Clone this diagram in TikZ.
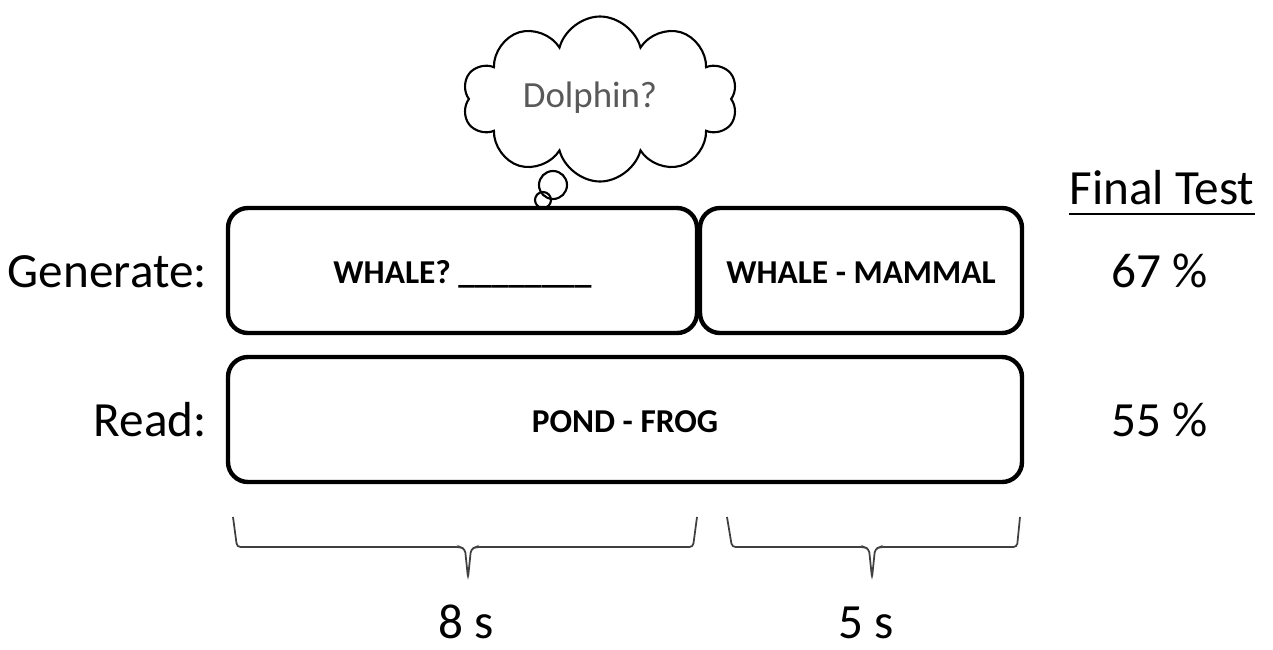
\documentclass[tikz,border=0pt]{standalone}
\usepackage{fontspec}
\setmainfont{Carlito}
\usetikzlibrary{shapes}
\usetikzlibrary{shapes.symbols}

\begin{document}
\begin{tikzpicture}[>=stealth,
    trial/.style={draw, line width=2.5pt, rounded corners=0.4cm, inner sep=0pt, minimum height=2.5cm,
                  text height=0.5cm, text depth=0pt, font=\bfseries\fontsize{19}{23}\selectfont},
    cond/.style={anchor=base east, inner sep=0pt, font=\fontsize{28}{34}\selectfont},
    score/.style={anchor=base, inner sep=0pt, font=\fontsize{28}{34}\selectfont},
    bubble/.style={draw, circle, line width=1.2pt, inner sep=0pt},
    span/.style={line width=1pt, black!75, rounded corners=2pt}]

      \useasboundingbox (0,0) rectangle (25.46,-12.98);

      % the two study conditions
      \node[trial, minimum width=9.38cm] (G0) at (9.25,-5.41) {WHALE? \_\_\_\_\_\_\_\_};
      \node[trial, minimum width=6.44cm] (G1) at (17.22,-5.41) {WHALE - MAMMAL};
      \node[trial, minimum width=15.88cm] (R0) at (12.5,-8.39) {POND - FROG};

      \node[cond] (gen) at (4.14,-5.74) {Generate:};
      \node[cond] (read) at (4.14,-8.72) {Read:};

      % thought bubble
      \node[draw, cloud, cloud puffs=10, aspect=1.7, line width=1.2pt,
            minimum width=5.5cm, minimum height=3.3cm] (think) at (12.0,-1.98) {};
      \node[text=black!65, font=\fontsize{21}{25}\selectfont] (dolphin) at (11.8,-1.96) {Dolphin?};
      \node[bubble, minimum size=0.56cm] (b0) at (11.06,-3.7) {};
      \node[bubble, minimum size=0.32cm] (b1) at (10.86,-4.0) {};

      % results
      \node[score] (final) at (23.24,-4.08) {Final Test};
      \draw[line width=1.2pt] ([yshift=-0.2cm]final.base west) -- ([yshift=-0.2cm]final.base east);
      \node[score] (s0) at (23.2,-5.74) {67 \%};
      \node[score] (s1) at (23.2,-8.72) {55 \%};

      % timing
      \coordinate (t0) at (4.66,-10.34);
      \coordinate (t1) at (13.94,-10.34);
      \coordinate (t2) at (14.54,-10.34);
      \coordinate (t3) at (20.4,-10.34);
      \coordinate (v0) at (9.36,-11.56);
      \coordinate (v1) at (17.44,-11.56);
      \draw[span] (t0) -- ++(0.08,-0.6) -- (9.2,-10.94) -- (9.3,-10.98)
                  -- (v0) -- (9.42,-10.98) -- (9.52,-10.94) -- (13.86,-10.94) -- (t1);
      \draw[span] (t2) -- ++(0.1,-0.6) -- (17.28,-10.94) -- (17.38,-10.98)
                  -- (v1) -- (17.5,-10.98) -- (17.6,-10.94) -- (20.34,-10.94) -- (t3);
      \node[score] (d0) at (9.32,-12.76) {8 s};
      \node[score] (d1) at (17.32,-12.76) {5 s};
    \end{tikzpicture}
\end{document}
